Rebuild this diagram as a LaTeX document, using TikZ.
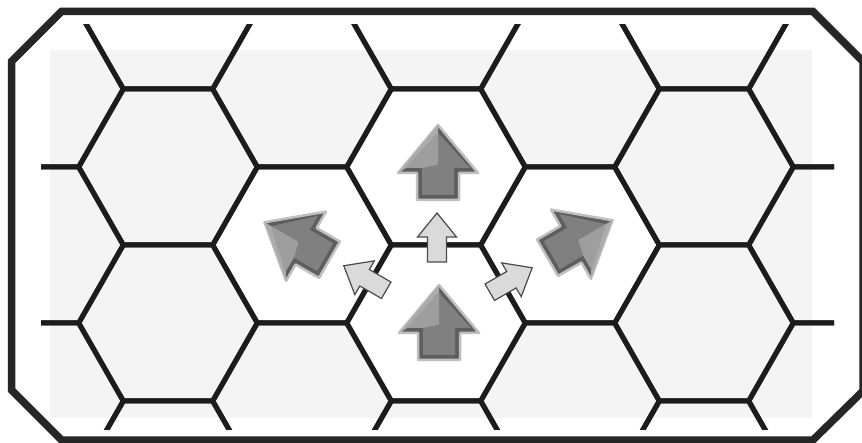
\documentclass[tikz,border=0pt]{standalone}
\definecolor{hexline}{HTML}{1C1C1C}
\definecolor{framecol}{HTML}{262626}
\definecolor{bggray}{HTML}{F4F4F4}
\definecolor{arrdark}{HTML}{5E5E5E}
\definecolor{arrmid}{HTML}{808080}
\definecolor{arrlight}{HTML}{ABABAB}
\definecolor{smallfill}{HTML}{DADADA}
\definecolor{smalledge}{HTML}{4A4A4A}
\tikzset{
  gridline/.style={draw=hexline, line width=5pt, line join=round},
  framestyle/.style={draw=framecol, line width=7.5pt, line join=miter},
  whitehex/.style={fill=white},
  bigouter/.style={fill=arrdark, draw=gray!50, line width=2.5pt, line join=round},
  bighigh/.style={fill=arrlight},
  biginner/.style={fill=arrmid},
  smallarr/.style={fill=smallfill, draw=smalledge, line width=1.2pt, line join=miter}
}
\newcommand\HexPath[2]{(#1-89.3,#2) -- (#1-44.7,#2-78) -- (#1+44.7,#2-78) -- (#1+89.3,#2) -- (#1+44.7,#2+78) -- (#1-44.7,#2+78) -- cycle}
\newcommand\BigArr[4]{%
  \begin{scope}[shift={(#1,#2)},rotate=#3]
    \path[bigouter] (37.5,0) -- (-10.5,40) -- (-10.5,21) -- (-37.5,21) -- (-37.5,-21) -- (-10.5,-21) -- (-10.5,-40) -- cycle;
    \path[biginner] (29.7,0) -- (-5.5,32) -- (-5.5,16) -- (-32.5,16) -- (-32.5,-16) -- (-5.5,-16) -- (-5.5,-32) -- cycle;
    \path[bighigh] (37.5,0) -- (-10.5,{#4*40}) -- (-5.5,{#4*32}) -- (29.7,0) -- cycle;
    \path[fill=arrlight!70!arrmid] (29.7,0) -- (-5.5,{#4*32}) -- (-5.5,{#4*16}) -- (-2,0) -- cycle;
  \end{scope}}
\newcommand\SmallArr[3]{%
  \begin{scope}[shift={(#1,#2)},rotate=#3]
    \path[smallarr] (24.5,0) -- (0.5,19.5) -- (0.5,9.5) -- (-24.5,9.5) -- (-24.5,-9.5) -- (0.5,-9.5) -- (0.5,-19.5) -- cycle;
  \end{scope}}
\begin{document}
\begin{tikzpicture}[x=1pt,y=-1pt]
\useasboundingbox (0,0) rectangle (862,443);
\fill[white] (0,0) rectangle (862,443);
\fill[bggray] (50,50) rectangle (812,418);
% white hexes
\foreach \cx/\cy in {436/167,436/323,302/245,570/245}
  \fill[whitehex] \HexPath{\cx}{\cy};
% hex grid
\begin{scope}
  \clip (41,25) rectangle (834,429);
  \foreach \c in {0,...,6} {
    \pgfmathsetmacro\cx{34+134*\c}
    \pgfmathsetmacro\off{11+78*mod(\c+1,2)}
    \foreach \k in {-1,...,3} {
      \pgfmathsetmacro\cy{\off+156*\k}
      \draw[gridline] \HexPath{\cx}{\cy};
    }
  }
\end{scope}
% frame
\draw[framestyle] (61.5,11.5) -- (813,11.5) -- (863,61.5) -- (863,391) -- (813,440) -- (61.5,440) -- (11.5,390) -- (11.5,61.5) -- cycle;
% big arrows
\BigArr{438}{162.5}{90}{-1}
\BigArr{439}{322.5}{90}{-1}
\BigArr{297}{241}{150}{-1}
\BigArr{580}{239}{30}{1}
% small arrows
\SmallArr{437}{237.5}{90}
\SmallArr{365}{278}{150}
\SmallArr{511}{280}{30}
\end{tikzpicture}
\end{document}
